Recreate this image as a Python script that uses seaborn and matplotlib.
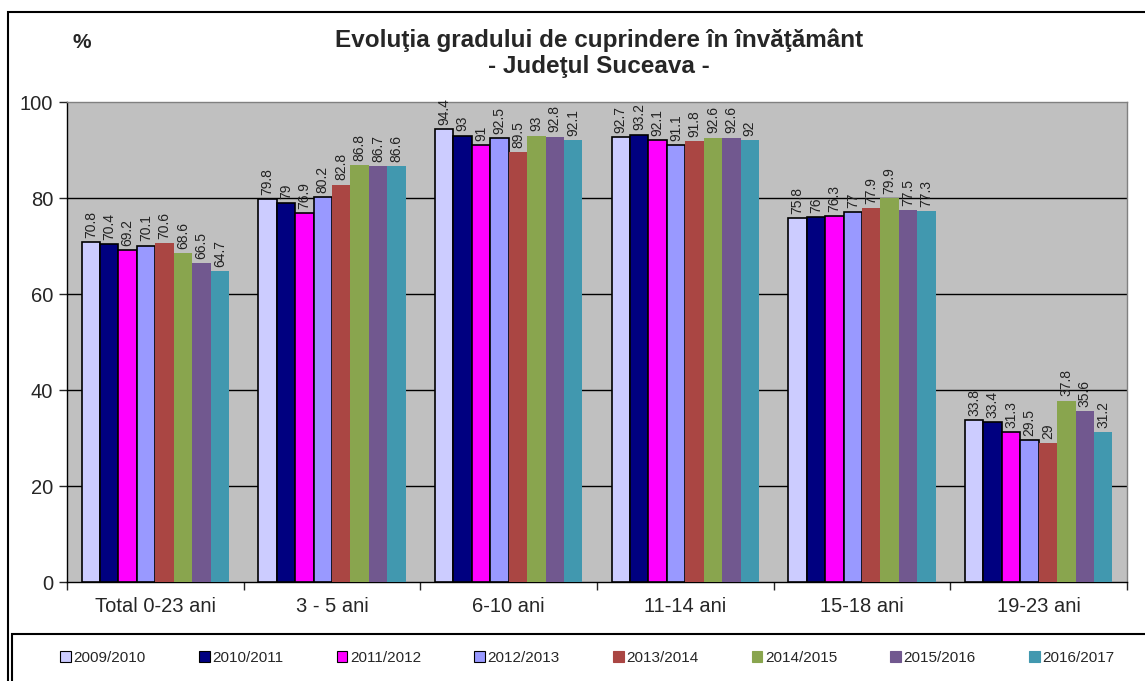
import numpy as np
import pandas as pd
import seaborn as sns
from matplotlib import pyplot as plt
from matplotlib.patches import Patch, Rectangle

# data
groups = ["Total 0-23 ani", "3 - 5 ani", "6-10 ani", "11-14 ani", "15-18 ani", "19-23 ani"]
years = ["2009/2010", "2010/2011", "2011/2012", "2012/2013",
         "2013/2014", "2014/2015", "2015/2016", "2016/2017"]
v_total = [70.8, 70.4, 69.2, 70.1, 70.6, 68.6, 66.5, 64.7]
v_3_5 = [79.8, 79, 76.9, 80.2, 82.8, 86.8, 86.7, 86.6]
v_6_10 = [94.4, 93, 91, 92.5, 89.5, 93, 92.8, 92.1]
v_11_14 = [92.7, 93.2, 92.1, 91.1, 91.8, 92.6, 92.6, 92]
v_15_18 = [75.8, 76, 76.3, 77, 77.9, 79.9, 77.5, 77.3]
v_19_23 = [33.8, 33.4, 31.3, 29.5, 29, 37.8, 35.6, 31.2]
colors = ["#ccccff", "#000080", "#ff00ff", "#9999ff",
          "#aa4643", "#89a54e", "#71588f", "#4198af"]
edged = [True, True, True, True, False, False, False, False]

all_vals = [v_total, v_3_5, v_6_10, v_11_14, v_15_18, v_19_23]
rows = []
for g, vals in zip(groups, all_vals):
    for y, v in zip(years, vals):
        rows.append({"Grupa": g, "An": y, "Procent": v})
df = pd.DataFrame(rows)

sns.set_style("white")
plt.rcParams["font.family"] = ["Liberation Sans", "DejaVu Sans"]

fig = plt.figure(figsize=(11.45, 6.81), dpi=100)
ax = fig.add_axes([67 / 1145, 1 - 582 / 681, (1127 - 67) / 1145, (582 - 102) / 681])
ax.set_facecolor("#c0c0c0")

sns.barplot(data=df, x="Grupa", y="Procent", hue="An", order=groups, hue_order=years,
            palette=colors, saturation=1, width=0.835, ax=ax, legend=False, zorder=3)

for i, cont in enumerate(ax.containers):
    for p in cont:
        if edged[i]:
            p.set_edgecolor("black")
            p.set_linewidth(1.2)
        else:
            p.set_edgecolor("none")
    labels = ["{:g}".format(vals[i]) for vals in all_vals]
    ax.bar_label(cont, labels=labels, rotation=90, padding=3, fontsize=10, color="#222222")

ax.set_ylim(0, 100)
ax.set_xlim(-0.5, 5.5)
ax.set_yticks([0, 20, 40, 60, 80, 100])
ax.tick_params(axis="y", direction="out", length=6, width=1, labelsize=14.5, left=True, pad=4)
for yv in [20, 40, 60, 80]:
    ax.axhline(yv, color="black", lw=1, zorder=1)

ax.set_xticks(np.arange(-0.5, 6, 1))
ax.set_xticklabels([])
ax.set_xticks(np.arange(6), minor=True)
ax.set_xticklabels(groups, minor=True)
ax.tick_params(axis="x", which="major", direction="out", length=6, width=1, bottom=True)
ax.tick_params(axis="x", which="minor", length=0, labelsize=14.5, pad=11)
ax.set_xlabel("")
ax.set_ylabel("")

for s in ["top", "right"]:
    ax.spines[s].set_color("#808080")
for s in ["left", "bottom"]:
    ax.spines[s].set_color("black")
for s in ax.spines.values():
    s.set_linewidth(1)

fig.text(0.523, 0.941, "Evoluţia gradului de cuprindere în învăţământ",
         ha="center", va="center", fontsize=17.5, fontweight="bold")
fig.text(0.523, 0.903, "- Judeţul Suceava -",
         ha="center", va="center", fontsize=17.5, fontweight="bold")
fig.text(0.071, 0.938, "%", ha="center", va="center", fontsize=15, fontweight="bold")

handles = [Patch(facecolor=c, edgecolor="black" if e else c, linewidth=0.8)
           for c, e in zip(colors, edged)]
fig.legend(handles, years, loc="center", bbox_to_anchor=(0.513, 0.034), ncol=8,
           frameon=False, fontsize=11, handlelength=0.7, handleheight=0.7,
           handletextpad=0.15, columnspacing=3.5)

# outer frame and legend box
fig.add_artist(Rectangle((8 / 1145, -0.1), 2, 1.1 - 12 / 681, transform=fig.transFigure,
                         fill=False, edgecolor="black", lw=1.5))
fig.add_artist(Rectangle((12 / 1145, -0.1), 2, 0.1 + 1 - 634 / 681, transform=fig.transFigure,
                         fill=False, edgecolor="black", lw=1.5))

fig.savefig("out.png", dpi=100)
